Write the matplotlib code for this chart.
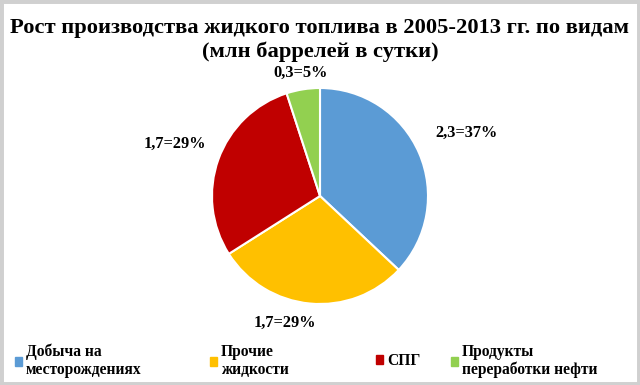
import matplotlib.pyplot as plt
import matplotlib.patches as mpatches
import numpy as np

plt.rcParams['font.family'] = ['Liberation Serif', 'DejaVu Serif']
plt.rcParams['font.weight'] = 'bold'

# данные
categories = ['Добыча на\nместорождениях', 'Прочие\nжидкости', 'СПГ', 'Продукты\nпереработки нефти']
values_mbd = ['2,3', '1,7', '1,7', '0,3']
shares = [37, 29, 29, 5]
colors = ['#5B9BD5', '#FFC000', '#C00000', '#92D050']

W, H = 640, 385
fig = plt.figure(figsize=(W / 100, H / 100), dpi=100)
fig.patch.set_facecolor('white')

# серая рамка
fig.add_artist(mpatches.Rectangle((0, 0), 1, 1, transform=fig.transFigure,
                                  fill=False, edgecolor='#d0d0d0', linewidth=5))

# заголовок
fig.text(0.5, 1 - 33 / H, 'Рост производства жидкого топлива в 2005-2013 гг. по видам',
         ha='center', va='baseline', fontsize=16.2, fontweight='bold')
fig.text(0.5, 1 - 57 / H, '(млн баррелей в сутки)',
         ha='center', va='baseline', fontsize=16.2, fontweight='bold')

# круговая диаграмма: центр (320, 196), радиус 108 px
cx, cy, r = 320, 196, 108
ax = fig.add_axes([(cx - r) / W, (H - cy - r) / H, 2 * r / W, 2 * r / H])
wedges, _ = ax.pie(shares, colors=colors, startangle=90, counterclock=False,
                   wedgeprops=dict(edgecolor='white', linewidth=1.5))
ax.set_xlim(-1, 1)
ax.set_ylim(-1, 1)
ax.set_aspect('equal')
ax.axis('off')

# подписи долей (расстояние от центра и сдвиг угла)
dist = [1.48, 1.22, 1.43, 1.15]
shift = [0, -10, 0, 0]
for w, v, s, d, a in zip(wedges, values_mbd, shares, dist, shift):
    ang = np.deg2rad((w.theta1 + w.theta2) / 2 + a)
    ax.text(d * np.cos(ang), d * np.sin(ang), f'{v}={s}%',
            ha='center', va='center', fontsize=11.8, fontweight='bold', clip_on=False)

# легенда
leg_x = [15, 210, 376, 451]
for cat, col, x in zip(categories, colors, leg_x):
    h = mpatches.Patch(color=col)
    leg = fig.legend([h], [cat], loc='center left', bbox_to_anchor=(x / W, 1 - 361 / H),
                     frameon=False, fontsize=11.2, handlelength=0.45, handleheight=0.45,
                     handletextpad=0.25, borderaxespad=0, borderpad=0)
    for t in leg.get_texts():
        t.set_fontweight('bold')
        t.set_linespacing(1.15)

plt.savefig('out.png', dpi=100)
